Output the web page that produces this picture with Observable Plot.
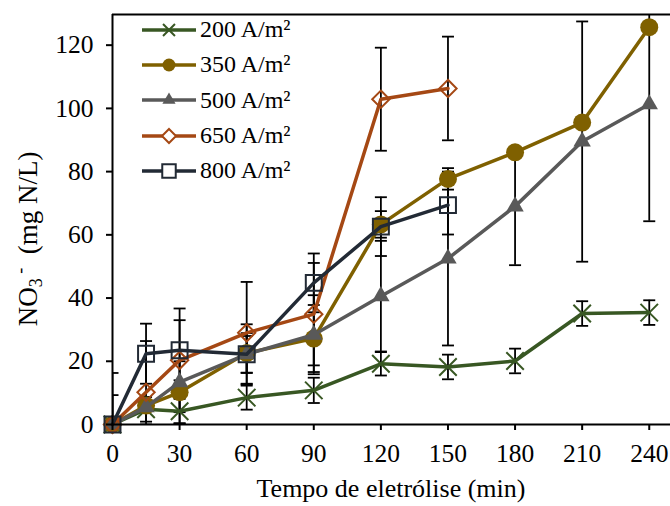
<!DOCTYPE html>
<html>
<head>
<meta charset="utf-8">
<script src="https://cdn.jsdelivr.net/npm/d3@7"></script>
<script src="https://cdn.jsdelivr.net/npm/@observablehq/plot@0.6"></script>
<style>
  html, body { margin: 0; padding: 0; background: #fff; }
  #chart { position: relative; width: 670px; height: 506px; overflow: hidden; }
  #legend { position: absolute; left: 142px; top: 12px; font-family: "Liberation Serif", "Times New Roman", serif; font-size: 24px; color: #000; }
  #legend .row { display: flex; align-items: center; height: 35.3px; }
  #legend svg { margin-right: 4px; overflow: visible; }
</style>
</head>
<body>
<div id="chart"></div>
<script>
// Sampling times (min)
const times = [0, 15, 30, 60, 90, 120, 150, 180, 210, 240];

// Nitrate concentration (mg N/L) and standard deviation per current density
const labels = ["200 A/m²", "350 A/m²", "500 A/m²", "650 A/m²", "800 A/m²"];
const no3_200 = [0, 4.8, 4.2, 8.5, 10.8, 19.2, 18.2, 20.1, 35.1, 35.4];
const sd_200  = [null, 3.9, 3.9, 3.8, 4.0, 3.7, 3.9, 3.9, 3.9, 3.9];
const no3_350 = [0, 6.0, 10.2, 22.6, 27.2, 63.3, 77.7, 86.1, 95.5, 125.7];
const sd_350  = [null, null, 9.8, 6.3, 10.6, 4.2, 3.4, null, null, null];
const no3_500 = [0, 5.5, 13.4, 22.2, 28.4, 40.6, 52.5, 69.0, 89.5, 101.3];
const sd_500  = [null, null, null, 5.8, 12.5, 17.5, 27.5, 18.6, 38.0, 37.0];
const no3_650 = [0, 10.2, 20.3, 29.0, 34.9, 102.9, 106.3];
const sd_650  = [16.3, 16.2, 16.4, 16.1, 16.2, 16.3, 16.4];
const no3_800 = [0, 22.4, 23.5, 22.2, 44.8, 62.6, 69.4];
const sd_800  = [9.3, 9.5, 9.5, 9.5, 9.3, 9.3, 9.3];

// Axis ticks
const xTicks = [0, 30, 60, 90, 120, 150, 180, 210, 240];
const yTicks = [0, 20, 40, 60, 80, 100, 120];

// Appearance of each series
const styles = [
  {color: "#385723", symbol: "times",    fill: "none",    r: 8,   lr: 5.5, sw: 2},
  {color: "#7F6000", symbol: "circle",   fill: "#7F6000", r: 9,   lr: 6.5, sw: 0},
  {color: "#595959", symbol: "triangle2",fill: "#595959", r: 8.3, lr: 6.3, sw: 0},
  {color: "#A54814", symbol: "diamond2", fill: "none",    r: 7.8, lr: 6.3, sw: 2},
  {color: "#222A35", symbol: "square",   fill: "none",    r: 9,   lr: 7.6, sw: 2}
];

const values = [no3_200, no3_350, no3_500, no3_650, no3_800];
const sds = [sd_200, sd_350, sd_500, sd_650, sd_800];

const rows = [];
values.forEach((vals, i) => vals.forEach((v, j) => {
  const sd = sds[i][j];
  rows.push({series: labels[i], idx: i, time: times[j], value: v, sd,
             lo: sd == null ? null : Math.max(0, v - sd),
             hi: sd == null ? null : v + sd});
}));
const errRows = rows.filter(d => d.sd != null);
const capRows = errRows.flatMap(d => [{time: d.time, y: d.lo}, {time: d.time, y: d.hi}]);

// Horizontal cap for error bars
const capSymbol = {draw(ctx) { ctx.moveTo(-6, 0); ctx.lineTo(6, 0); }};

const yMax = 129.7;
const seriesMarks = styles.flatMap((s, i) => {
  const data = rows.filter(d => d.idx === i);
  return [
    Plot.line(data, {x: "time", y: "value", stroke: s.color, strokeWidth: 3.5}),
    Plot.dot(data, {x: "time", y: "value", symbol: s.symbol, r: s.r,
                    fill: s.fill, stroke: s.sw ? s.color : "none", strokeWidth: s.sw})
  ];
});

const chart = Plot.plot({
  width: 670,
  height: 506,
  marginLeft: 112,
  marginRight: 0,
  marginTop: 14,
  marginBottom: 82,
  style: {fontFamily: "'Liberation Serif', 'Times New Roman', serif", fontSize: "25.5px", color: "#000", background: "#fff", overflow: "visible"},
  x: {domain: [0, 249.5]},
  y: {domain: [0, yMax]},
  marks: [
    Plot.ruleX(errRows, {x: "time", y1: "lo", y2: "hi", stroke: "#000", strokeWidth: 1.8, clip: true}),
    Plot.dot(capRows, {x: "time", y: "y", symbol: capSymbol, stroke: "#000", strokeWidth: 1.8, clip: true}),
    ...seriesMarks,
    Plot.ruleX([0], {stroke: "#000", strokeWidth: 2}),
    Plot.ruleY([0], {stroke: "#000", strokeWidth: 2}),
    Plot.ruleY([yMax], {stroke: "#000", strokeWidth: 2}),
    Plot.axisX({ticks: xTicks, tickSize: 6, tickPadding: 13, strokeWidth: 2, label: null}),
    Plot.axisY({ticks: yTicks, tickSize: 6, tickPadding: 13, strokeWidth: 2, label: null})
  ]
});

const svg = d3.select(chart);
// x axis title
svg.append("text")
  .attr("x", 391).attr("y", 497)
  .attr("text-anchor", "middle")
  .attr("fill", "#000")
  .attr("font-size", 26)
  .text("Tempo de eletrólise (min)");
// y axis title with subscript and superscript
const yt = svg.append("text")
  .attr("transform", "translate(37,239) rotate(-90)")
  .attr("text-anchor", "middle")
  .attr("fill", "#000")
  .attr("font-size", 27);
yt.append("tspan").text("NO");
yt.append("tspan").attr("font-size", 18).attr("baseline-shift", "-25%").text("3");
yt.append("tspan").attr("font-size", 18).attr("baseline-shift", "60%").text(" -");
yt.append("tspan").text("  (mg N/L)");

const container = document.getElementById("chart");
container.appendChild(chart);

// Legend
const legend = d3.select(container).append("div").attr("id", "legend");
const d3Symbols = {times: d3.symbolTimes, circle: d3.symbolCircle, triangle2: d3.symbolTriangle2,
                   diamond2: d3.symbolDiamond2, square: d3.symbolSquare};
labels.forEach((label, i) => {
  const s = styles[i];
  const row = legend.append("div").attr("class", "row");
  const g = row.append("svg").attr("width", 54).attr("height", 20);
  g.append("line").attr("x1", 0).attr("x2", 54).attr("y1", 10).attr("y2", 10)
    .attr("stroke", s.color).attr("stroke-width", 3.5);
  g.append("path")
    .attr("transform", "translate(27,10)")
    .attr("d", d3.symbol(d3Symbols[s.symbol], Math.PI * s.lr * s.lr)())
    .attr("fill", s.fill === "none" ? "#fff" : s.fill)
    .attr("stroke", s.sw ? s.color : "none")
    .attr("stroke-width", s.sw);
  row.append("span").text(label);
});
</script>
</body>
</html>
